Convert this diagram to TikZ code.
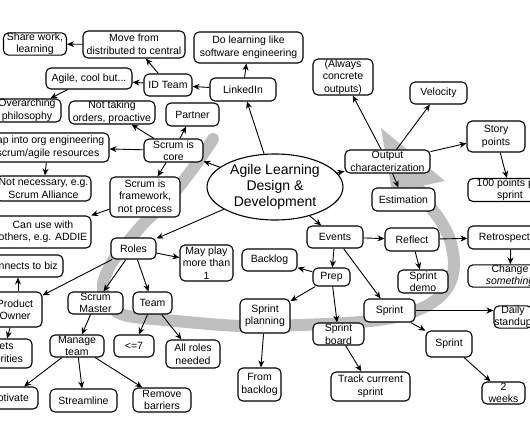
\documentclass[tikz,border=0pt]{standalone}
\usepackage{fontspec}
\setmainfont{Liberation Sans}
\usetikzlibrary{shapes.geometric,arrows.meta,backgrounds}
\begin{document}
\begin{tikzpicture}[x=1pt,y=-1pt,
  box/.style={draw, line width=1.1pt, rounded corners=5pt, fill=white, align=center, inner sep=0pt, font=\fontsize{10.5}{12.5}\selectfont},
  arr/.style={-{Stealth[length=7pt,width=6pt]}, line width=0.9pt},
  band/.style={line width=12pt, draw=gray!50, line cap=round}]
\useasboundingbox (0,0) rectangle (530,442);
\clip (0,0) rectangle (530,442);

% nodes
\node[box, minimum width=63, minimum height=22] (share) at (35,44) {Share work,\\learning};
\node[box, minimum width=102, minimum height=27] (move) at (134,44.5) {Move from\\distributed to central};
\node[box, minimum width=109, minimum height=31] (dolearn) at (248.5,47.5) {Do learning like\\software engineering};
\node[box, minimum width=86, minimum height=21] (agile) at (89,78.5) {Agile, cool but...};
\node[box, minimum width=48, minimum height=22] (idteam) at (168,85) {ID Team};
\node[box, minimum width=66, minimum height=23] (linkedin) at (243,89.5) {LinkedIn};
\node[box, minimum width=68, minimum height=23] (overarch) at (27,110.5) {Overarching\\philosophy};
\node[box, minimum width=86, minimum height=23] (nottaking) at (112,112.5) {Not taking\\orders, proactive};
\node[box, minimum width=53, minimum height=23] (partner) at (192.5,114.5) {Partner};
\node[box, minimum width=122, minimum height=29] (tap) at (48,147.5) {Tap into org engineering\\scrum/agile resources};
\node[box, minimum width=59, minimum height=23] (core) at (173.5,150.5) {Scrum is\\core};
\node[box, minimum width=95, minimum height=25] (notnec) at (43.5,188.5) {Not necessary, e.g.\\Scrum Alliance};
\node[box, minimum width=70, minimum height=40] (framework) at (145,197) {Scrum is\\framework,\\not process};
\node[box, minimum width=96, minimum height=32] (canuse) at (43,232) {Can use with\\others, e.g. ADDIE};
\node[box, minimum width=45, minimum height=21] (roles) at (133.5,248.5) {Roles};
\node[box, minimum width=53, minimum height=36] (mayplay) at (206.5,263) {May play\\more than\\1};
\node[box, minimum width=83, minimum height=22] (biz) at (21.5,266) {Connects to biz};
\node[box, minimum width=54, minimum height=35] (po) at (15,309.5) {Product\\Owner};
\node[box, minimum width=58, minimum height=29] (sets) at (3,353.5) {Sets\\priorities};
\node[box, minimum width=55, minimum height=22] (sm) at (95.5,303) {Scrum\\Master};
\node[box, minimum width=39, minimum height=22] (team) at (152.5,303) {Team};
\node[box, minimum width=54, minimum height=22] (manage) at (77,346) {Manage\\team};
\node[box, minimum width=40, minimum height=22] (le7) at (134,346) {<=7};
\node[box, minimum width=54, minimum height=28] (allroles) at (193,354) {All roles\\needed};
\node[box, minimum width=58, minimum height=22] (motivate) at (9,398) {Motivate};
\node[box, minimum width=67, minimum height=23] (streamline) at (83.5,400.5) {Streamline};
\node[box, minimum width=58, minimum height=24] (remove) at (162,400) {Remove\\barriers};

\node[draw, ellipse, line width=1.1pt, fill=white, inner sep=0pt, minimum width=136, minimum height=66, align=center, font=\fontsize{14}{16}\selectfont] (center) at (275,187) {Agile Learning\\Design \&\\Development};

\node[box, minimum width=85, minimum height=23] (outchar) at (387.5,161.5) {Output\\characterization};
\node[box, minimum width=60, minimum height=36] (always) at (343,77) {(Always\\concrete\\outputs)};
\node[box, minimum width=57, minimum height=22] (velocity) at (438.5,93) {Velocity};
\node[box, minimum width=58, minimum height=31] (story) at (496,136.5) {Story\\points};
\node[box, minimum width=63, minimum height=23] (estimation) at (403.5,199.5) {Estimation};
\node[box, minimum width=84, minimum height=23] (hundred) at (510,190) {100 points per\\sprint};
\node[box, minimum width=56, minimum height=22] (events) at (335,237) {Events};
\node[box, minimum width=54, minimum height=23] (reflect) at (412,239.5) {Reflect};
\node[box, minimum width=86, minimum height=23] (retro) at (511,237.5) {Retrospective};
\node[box, minimum width=84, minimum height=22] (change) at (510,276) {Change\\\textit{something}};
\node[box, minimum width=50, minimum height=23] (demo) at (423,281.5) {Sprint\\demo};
\node[box, minimum width=55, minimum height=22] (backlog) at (269.5,260) {Backlog};
\node[box, minimum width=37, minimum height=18] (prep) at (331.5,277) {Prep};
\node[box, minimum width=50, minimum height=34] (planning) at (265,316) {Sprint\\planning};
\node[box, minimum width=43, minimum height=33] (frombacklog) at (259.5,384.5) {From\\backlog};
\node[box, minimum width=51, minimum height=23] (sprintA) at (389.5,310.5) {Sprint};
\node[box, minimum width=46, minimum height=26] (sprintB) at (449,344) {Sprint};
\node[box, minimum width=51, minimum height=22] (board) at (338.5,334) {Sprint\\board};
\node[box, minimum width=79, minimum height=29] (track) at (370.5,386.5) {Track currrent\\sprint};
\node[box, minimum width=43, minimum height=22] (weeks) at (503.5,393) {2\\weeks};
\node[box, minimum width=38, minimum height=22] (daily) at (513,317) {Daily\\standup};

% gray band behind everything
\begin{scope}[on background layer]
\draw[band] plot[smooth, tension=0.55] coordinates {(213,139) (194,167) (168,200) (145,222) (127,243) (111,264) (103,285) (108,303) (124,315) (165,320) (240,326) (300,325) (360,322) (400,316) (430,304) (448,287) (454,265) (450,240) (440,220) (428,204) (420,190)};
\fill[gray!50] (381,128) -- (445,181) -- (392,192) -- cycle;
\end{scope}

% connectors
\draw[arr] (center) -- (linkedin);
\draw[arr] (linkedin) -- (dolearn);
\draw[arr] (linkedin) -- (idteam);
\draw[arr] (idteam) -- (move);
\draw[arr] (move) -- (share);
\draw[arr] (idteam) -- (agile);
\draw[arr] (agile) -- (overarch);
\draw[arr] (center) -- (core);
\draw[arr] (core) -- (nottaking);
\draw[arr] (core) -- (partner);
\draw[arr] (core) -- (tap);
\draw[arr] (tap) -- (notnec);
\draw[arr] (core) -- (framework);
\draw[arr] (framework) -- (canuse);
\draw[arr] (center) -- (roles);
\draw[arr] (roles) -- (mayplay);
\draw[arr] (roles) -- (sm);
\draw[arr] (roles) -- (team);
\draw[arr] (roles) -- (po);
\draw[arr] ([xshift=3pt]po.north) -- ([xshift=-3.5pt]biz.south);
\draw[arr] (po) -- (sets);
\draw[arr] (sm) -- (manage);
\draw[arr] (manage) -- (motivate);
\draw[arr] (manage) -- (streamline);
\draw[arr] (manage) -- (remove);
\draw[arr] (team) -- (le7);
\draw[arr] (team) -- (allroles);
\draw[arr] (center) -- (outchar);
\draw[arr] (outchar) -- (always);
\draw[arr] (outchar) -- (velocity);
\draw[arr] (outchar) -- (story);
\draw[arr] (outchar) -- (estimation);
\draw[arr] (story) -- (hundred);
\draw[arr] (center) -- (events);
\draw[arr] (events) -- (reflect);
\draw[arr] (events) -- (prep);
\draw[arr] (events) -- (sprintA);
\draw[arr] (prep) -- (backlog);
\draw[arr] (prep) -- (planning);
\draw[arr] (prep) -- (board);
\draw[arr] (planning) -- (frombacklog);
\draw[arr] (board) -- (track);
\draw[arr] (reflect) -- (retro);
\draw[arr] (reflect) -- (demo);
\draw[arr] (retro) -- (change);
\draw[arr] (sprintA.east) -- (sprintA.east -| daily.west);
\draw[arr] (sprintA) -- (sprintB);
\draw[arr] (sprintB) -- (weeks);
\end{tikzpicture}
\end{document}
